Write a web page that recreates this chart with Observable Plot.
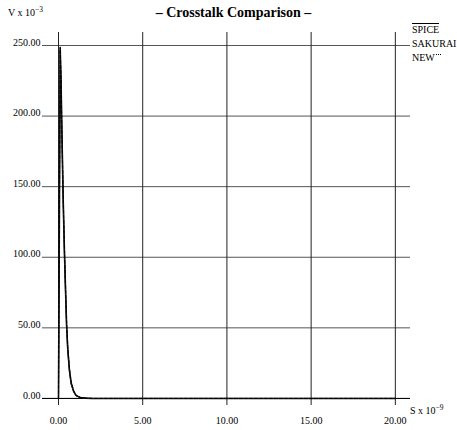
<!DOCTYPE html>
<html>
<head>
<meta charset="utf-8">
<script src="https://cdn.jsdelivr.net/npm/d3@7"></script>
<script src="https://cdn.jsdelivr.net/npm/@observablehq/plot@0.6"></script>
<style>
  body { margin: 0; background: #fff; }
  #wrap { position: relative; width: 457px; height: 430px; font-family: "Liberation Serif", "Times New Roman", serif; color: #000; }
  .ov { position: absolute; white-space: nowrap; line-height: 1; }
  sup { font-size: 0.75em; vertical-align: 0; position: relative; top: -0.55em; }
</style>
</head>
<body>
<div id="wrap">
  <div id="chart"></div>
  <div class="ov" style="left:0;width:457px;top:6px;text-align:center;font-size:14px;font-weight:bold;padding-left:10px;box-sizing:border-box;">– Crosstalk Comparison –</div>
  <div class="ov" style="left:8px;top:8px;font-size:10px;">V x 10<sup>−3</sup></div>
  <div class="ov" style="left:410px;top:406px;font-size:10px;">S x 10<sup>−9</sup></div>
  <div class="ov" style="left:412px;top:25px;font-size:10px;"><span style="border-top:1px solid #000;">SPICE</span></div>
  <div class="ov" style="left:412px;top:39px;font-size:10px;">SAKURAI</div>
  <div class="ov" style="left:412px;top:53px;font-size:10px;">NEW<span style="display:inline-block;width:5px;border-top:1px dotted #000;vertical-align:top;margin-left:1px;margin-top:1px;"></span></div>
</div>
<script>
// Tick values
const xTicks = [0, 5, 10, 15, 20];
const yTicks = [0, 50, 100, 150, 200, 250];

// Time (ns) and voltages (mV)
const times   = [0, 0.1, 0.15, 0.2, 0.28, 0.35, 0.42, 0.48, 0.55, 0.65, 0.75, 0.9, 1.05, 1.3, 1.6, 2, 5, 10, 15, 20];
const spice   = [0, 248, 225, 190, 140, 105, 76, 52, 35, 20, 11, 5, 2, 0.6, 0.2, 0, 0, 0, 0, 0];
const sakurai = [0, 246, 222, 186, 137, 102, 73, 50, 33, 19, 10, 4.5, 1.8, 0.5, 0.1, 0, 0, 0, 0, 0];
const newer   = [0, 249, 228, 193, 143, 108, 79, 55, 37, 21, 12, 5.5, 2.2, 0.7, 0.2, 0, 0, 0, 0, 0];

const series = [
  {name: "SPICE", values: spice},
  {name: "SAKURAI", values: sakurai},
  {name: "NEW", values: newer}
];
const rows = series.flatMap(s => times.map((t, i) => ({series: s.name, t, v: s.values[i]})));

const chart = Plot.plot({
  width: 457,
  height: 430,
  marginLeft: 42,
  marginRight: 47,
  marginTop: 32,
  marginBottom: 25,
  style: {fontFamily: '"Liberation Serif", "Times New Roman", serif', fontSize: "10px", background: "#fff", color: "#000"},
  x: {domain: [-0.95, 20.9], axis: null},
  y: {domain: [-5, 259.2], axis: null},
  marks: [
    Plot.ruleY(yTicks, {stroke: "#555", strokeWidth: 1}),
    Plot.ruleX(xTicks, {stroke: "#222", strokeWidth: 1}),
    Plot.ruleY([0], {stroke: "#000", strokeWidth: 1}),
    Plot.text(yTicks, {y: d => d, frameAnchor: "left", textAnchor: "end", dx: -2, dy: -3, text: d => d.toFixed(2), fill: "#000"}),
    Plot.text(xTicks, {x: d => d, frameAnchor: "bottom", dy: 18, text: d => d.toFixed(2), fill: "#000"}),
    Plot.line(rows.filter(r => r.series === "SPICE"), {x: "t", y: "v", stroke: "#000", strokeWidth: 1.6}),
    Plot.line(rows.filter(r => r.series === "SAKURAI"), {x: "t", y: "v", stroke: "#222", strokeWidth: 1}),
    Plot.line(rows.filter(r => r.series === "NEW"), {x: "t", y: "v", stroke: "#000", strokeWidth: 1, strokeDasharray: "3,2"})
  ]
});
document.getElementById("chart").appendChild(chart);
</script>
</body>
</html>
